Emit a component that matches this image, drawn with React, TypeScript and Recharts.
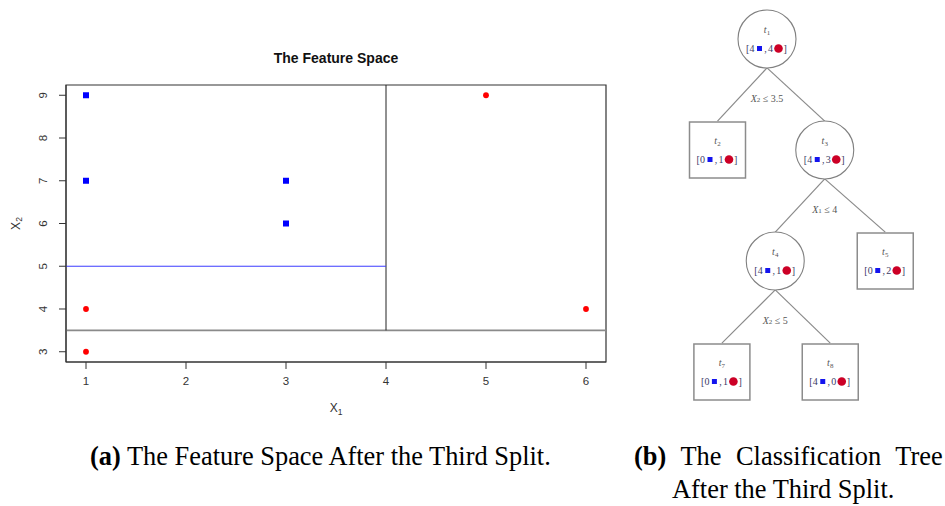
import React from 'react';
import {
  ScatterChart,
  Scatter,
  XAxis,
  YAxis,
  ReferenceLine,
  ReferenceArea
} from 'recharts';

const SANS = '"Liberation Sans", Arial, sans-serif';
const SERIF = '"Liberation Serif", "Times New Roman", serif';

// feature space points
const blueX = [1, 1, 3, 3];
const blueY = [9, 7, 7, 6];
const redX = [1, 1, 5, 6];
const redY = [4, 3, 9, 4];
const xTicks = [1, 2, 3, 4, 5, 6];
const yTicks = [3, 4, 5, 6, 7, 8, 9];
const xDomain = [0.8, 6.2];
const yDomain = [2.76, 9.24];

// the three splits: X2 <= 3.5, then X1 <= 4, then X2 <= 5
const firstSplit = 3.5;
const secondSplit = 4;
const thirdSplit = 5;

// tree nodes
const nodeIds = [1, 2, 3, 4, 5, 7, 8];
const nodeLeaf = [false, true, false, false, true, true, true];
const nodeBlue = [4, 0, 4, 4, 0, 0, 4];
const nodeRed = [4, 1, 3, 1, 2, 1, 0];
const nodeParent = [-1, 0, 0, 2, 2, 3, 3];
const nodeDepth = [0, 1, 1, 2, 2, 3, 3];
const nodeCol = [1.0, 0.1, 2.05, 1.15, 3.15, 0.18, 2.15];
const splitVar = ['2', '', '1', '2', '', '', ''];
const splitVal = ['3.5', '', '4', '5', '', '', ''];

const blueData = blueX.map((x, i) => ({ x, y: blueY[i] }));
const redData = redX.map((x, i) => ({ x, y: redY[i] }));

const nodeData = nodeIds.map((id, i) => ({
  id,
  x: nodeCol[i],
  y: nodeDepth[i],
  leaf: nodeLeaf[i],
  blue: nodeBlue[i],
  red: nodeRed[i]
}));

// node radius / half side, in depth units
const NODE_R = 0.26;
const NODE_PX = 28;

const edges = nodeParent
  .map((p, i) => (p < 0 ? null : [
    { x: nodeCol[p], y: nodeDepth[p] + NODE_R },
    { x: nodeCol[i], y: nodeDepth[i] - NODE_R }
  ]))
  .filter(Boolean) as { x: number; y: number }[][];

const splitLabels = nodeIds
  .map((_, i) => ({ x: nodeCol[i], y: nodeDepth[i] + 0.53, v: splitVar[i], val: splitVal[i] }))
  .filter(d => d.v !== '');

const BlueSquare = (p: any) => (
  <rect x={p.cx - 3} y={p.cy - 3} width={6} height={6} fill="#0000ff" />
);

const RedDot = (p: any) => <circle cx={p.cx} cy={p.cy} r={2.9} fill="#ff0000" />;

const YTick = (p: any) => {
  const x = p.x - 14;
  return (
    <text
      x={x}
      y={p.y}
      transform={`rotate(-90 ${x} ${p.y})`}
      textAnchor="middle"
      dominantBaseline="central"
      fontSize={11.5}
      fontFamily={SANS}
      fill="#333"
    >
      {p.payload.value}
    </text>
  );
};

const XLabel = (p: any) => {
  const vb = p.viewBox || { x: 66, y: 362, width: 540 };
  return (
    <text x={vb.x + vb.width / 2} y={vb.y + 50} textAnchor="middle" fontSize={12} fontFamily={SANS} fill="#333">
      X<tspan fontSize={8.5} dy={3}>1</tspan>
    </text>
  );
};

const YLabel = (p: any) => {
  const vb = p.viewBox || { x: 26, y: 85, height: 277 };
  const x = vb.x - 10;
  const y = vb.y + vb.height / 2;
  return (
    <text
      x={x}
      y={y}
      transform={`rotate(-90 ${x} ${y})`}
      textAnchor="middle"
      dominantBaseline="central"
      fontSize={12}
      fontFamily={SANS}
      fill="#333"
    >
      X<tspan fontSize={8.5} dy={3}>2</tspan>
    </text>
  );
};

const TreeNode = (props: any) => {
  const { cx, cy, payload } = props;
  const h = NODE_PX;
  const base = cy + 13;
  const mid = cy + 9.5;
  return (
    <g>
      {payload.leaf ? (
        <rect x={cx - h} y={cy - h} width={2 * h} height={2 * h} fill="#fff" stroke="#8c8c8c" strokeWidth={1.5} />
      ) : (
        <circle cx={cx} cy={cy} r={h + 1} fill="#fff" stroke="#808080" strokeWidth={1.1} />
      )}
      <text x={cx} y={cy - 6} textAnchor="middle" fontFamily={SERIF} fontSize={10} fill="#555" fontStyle="italic">
        t<tspan fontSize={7} dy={2} fontStyle="normal">{payload.id}</tspan>
      </text>
      <g fontFamily={SERIF} fontSize={10} fill="#3a3a66">
        <text x={cx - 21} y={base}>[</text>
        <text x={cx - 15} y={base} textAnchor="middle">{payload.blue}</text>
        <rect x={cx - 10} y={mid - 2.5} width={5} height={5} fill="#1414ee" />
        <text x={cx - 1.5} y={base} textAnchor="middle">,</text>
        <text x={cx + 3.5} y={base} textAnchor="middle">{payload.red}</text>
        <circle cx={cx + 11.5} cy={mid} r={4.3} fill="#cc0026" />
        <text x={cx + 16.5} y={base}>]</text>
      </g>
    </g>
  );
};

const SplitText = (props: any) => {
  const { cx, cy, payload } = props;
  return (
    <text x={cx} y={cy} textAnchor="middle" dominantBaseline="central" fontFamily={SERIF} fontSize={10} fill="#555">
      <tspan fontStyle="italic">X</tspan>
      <tspan fontSize={7} dy={2}>{payload.v}</tspan>
      <tspan dy={-2}> ≤ {payload.val}</tspan>
    </text>
  );
};

export default function App() {
  return (
    <div style={{ position: 'absolute', left: 0, top: 0, width: 945, height: 506, background: '#fff', overflow: 'hidden' }}>
      <div
        style={{
          position: 'absolute',
          left: 0,
          top: 49,
          width: 672,
          textAlign: 'center',
          fontFamily: SANS,
          fontWeight: 'bold',
          fontSize: 14,
          lineHeight: '18px',
          color: '#111'
        }}
      >
        The Feature Space
      </div>

      <div style={{ position: 'absolute', left: 0, top: 0 }}>
        <ScatterChart width={620} height={430} margin={{ top: 85, right: 14, left: 26, bottom: 38 }}>
          <XAxis
            type="number"
            dataKey="x"
            domain={xDomain}
            ticks={xTicks}
            allowDataOverflow
            interval={0}
            height={30}
            tickSize={7}
            tickMargin={8}
            stroke="#333"
            tick={{ fill: '#333', fontSize: 11.5, fontFamily: SANS }}
            label={{ content: XLabel } as any}
          />
          <YAxis
            type="number"
            dataKey="y"
            domain={yDomain}
            ticks={yTicks}
            allowDataOverflow
            interval={0}
            width={40}
            tickSize={7}
            stroke="#333"
            tick={<YTick />}
            label={{ content: YLabel } as any}
          />
          <ReferenceArea
            x1={xDomain[0]}
            x2={xDomain[1]}
            y1={yDomain[0]}
            y2={yDomain[1]}
            fill="none"
            fillOpacity={0}
            stroke="#333"
            strokeWidth={1.2}
          />
          <ReferenceLine y={firstSplit} stroke="#8a8a8a" strokeWidth={1.6} />
          <ReferenceLine
            segment={[{ x: secondSplit, y: firstSplit }, { x: secondSplit, y: yDomain[1] }]}
            stroke="#222"
            strokeWidth={1}
          />
          <ReferenceLine
            segment={[{ x: xDomain[0], y: thirdSplit }, { x: secondSplit, y: thirdSplit }]}
            stroke="#3b3bff"
            strokeWidth={1}
          />
          <Scatter data={blueData} shape={<BlueSquare />} isAnimationActive={false} />
          <Scatter data={redData} shape={<RedDot />} isAnimationActive={false} />
        </ScatterChart>
      </div>

      <div style={{ position: 'absolute', left: 660, top: 0 }}>
        <ScatterChart width={285} height={420} margin={{ top: 0, right: 0, left: 0, bottom: 0 }}>
          <XAxis type="number" dataKey="x" domain={[-0.9455, 4.2364]} allowDataOverflow hide />
          <YAxis type="number" dataKey="y" domain={[-0.3514, 3.4324]} allowDataOverflow reversed hide />
          {edges.map((seg, i) => (
            <ReferenceLine key={i} segment={seg} stroke="#8a8a8a" strokeWidth={1.2} />
          ))}
          <Scatter data={splitLabels} shape={<SplitText />} isAnimationActive={false} />
          <Scatter data={nodeData} shape={<TreeNode />} isAnimationActive={false} />
        </ScatterChart>
      </div>

      <div
        style={{
          position: 'absolute',
          left: 90,
          top: 440,
          fontFamily: SERIF,
          fontSize: 26.4,
          lineHeight: '33px',
          whiteSpace: 'nowrap',
          color: '#000'
        }}
      >
        <b>(a)</b> The Feature Space After the Third Split.
      </div>
      <div
        style={{
          position: 'absolute',
          left: 634,
          top: 440,
          fontFamily: SERIF,
          fontSize: 26.4,
          lineHeight: '33px',
          whiteSpace: 'nowrap',
          color: '#000'
        }}
      >
        <span style={{ wordSpacing: 8 }}><b>(b)</b> The Classification Tree</span>
        <br />
        <span style={{ paddingLeft: 38 }}>After the Third Split.</span>
      </div>
    </div>
  );
}
